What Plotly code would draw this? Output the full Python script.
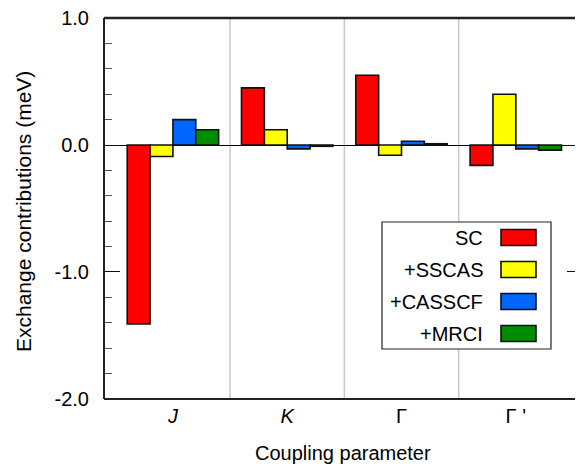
import plotly.graph_objects as go

categories = ["<i>J</i>", "<i>K</i>", "Γ", "Γ '"]
series_names = ["SC", "+SSCAS", "+CASSCF", "+MRCI"]
sc = [-1.41, 0.45, 0.55, -0.16]
sscas = [-0.09, 0.12, -0.08, 0.40]
casscf = [0.20, -0.03, 0.03, -0.03]
mrci = [0.12, -0.01, 0.01, -0.04]
colors = ["#ff0000", "#ffff00", "#0066ff", "#008c00"]
y_ticks = [-2.0, -1.0, 0.0, 1.0]
y_ticktext = ["-2.0", "-1.0", "0.0", "1.0"]
x_title = "Coupling parameter"
y_title = "Exchange contributions (meV)"

# page body has an 8px margin; figure is sized/placed to compensate
OFF = 8
W, H = 583 - OFF, 465 - OFF
ML, MR, MT, MB = 104 - OFF, 0, 18 - OFF, 66
PW, PH = W - ML - MR, H - MT - MB
FONT = "Liberation Sans, Arial, sans-serif"

def px_x(x):
    return (x - OFF - ML) / PW

def px_y(y):
    return (H - MB - (y - OFF)) / PH

fig = go.Figure()
for name, vals, col in zip(series_names, [sc, sscas, casscf, mrci], colors):
    fig.add_trace(go.Bar(x=categories, y=vals, name=name, showlegend=False,
                         marker=dict(color=col, line=dict(color="#111", width=1.6))))

shapes = []
# category dividers
for i in range(len(categories) - 1):
    shapes.append(dict(type="line", xref="x", yref="paper", x0=i + 0.5, x1=i + 0.5,
                       y0=0, y1=1, line=dict(color="#c8c8c8", width=1.5), layer="below"))
# frame lines (left, top, bottom)
shapes.append(dict(type="line", xref="paper", yref="paper", x0=0, x1=0, y0=0, y1=1,
                   line=dict(color="#222", width=2)))
shapes.append(dict(type="line", xref="paper", yref="paper", x0=0, x1=1, y0=1, y1=1,
                   line=dict(color="#222", width=2.5)))
shapes.append(dict(type="line", xref="paper", yref="paper", x0=0, x1=1, y0=0, y1=0,
                   line=dict(color="#222", width=2)))

# custom legend
lx0, lx1, ly0, ly1 = 382, 551, 222, 349
shapes.append(dict(type="rect", xref="paper", yref="paper", x0=px_x(lx0), x1=px_x(lx1),
                   y0=px_y(ly1), y1=px_y(ly0), line=dict(color="#222", width=1.2),
                   fillcolor="white"))
annotations = []
for k, (name, col) in enumerate(zip(series_names, colors)):
    cy = 237.5 + 32 * k
    shapes.append(dict(type="rect", xref="paper", yref="paper", x0=px_x(501), x1=px_x(536),
                       y0=px_y(cy + 8), y1=px_y(cy - 8), fillcolor=col,
                       line=dict(color="#111", width=1.6)))
    annotations.append(dict(xref="paper", yref="paper", x=px_x(485), y=px_y(cy),
                            xanchor="right", yanchor="middle", text=name, showarrow=False,
                            font=dict(size=20, color="#000", family=FONT)))

# axis titles
annotations.append(dict(xref="paper", yref="paper", x=px_x(343), y=px_y(453),
                        xanchor="center", yanchor="middle", text=x_title, showarrow=False,
                        font=dict(size=20, color="#000", family=FONT)))
annotations.append(dict(xref="paper", yref="paper", x=px_x(23), y=px_y(212),
                        xanchor="center", yanchor="middle", text=y_title, showarrow=False,
                        textangle=-90, font=dict(size=21, color="#000", family=FONT)))

n = len(categories)
fig.update_layout(
    width=W, height=H,
    margin=dict(l=ML, r=MR, t=MT, b=MB, pad=0),
    paper_bgcolor="white", plot_bgcolor="white",
    font=dict(family=FONT, size=20, color="#000"),
    barmode="group", bargap=0.2, bargroupgap=0,
    shapes=shapes, annotations=annotations,
    xaxis=dict(type="category", range=[-0.603, n - 1 + 0.588], automargin=False,
               showline=False, showgrid=False, ticks="", ticklabelstandoff=3,
               tickfont=dict(size=20)),
    yaxis=dict(range=[-2.0005, 1.0005], tickvals=y_ticks, ticktext=y_ticktext,
               automargin=False, ticklabeloverflow="allow",
               showline=False, mirror="ticks", ticks="inside", ticklen=16,
               tickcolor="#111", tickwidth=1.2, showgrid=False,
               zeroline=True, zerolinecolor="#000", zerolinewidth=1.2,
               ticklabelstandoff=14, tickfont=dict(size=20),
               minor=dict(dtick=0.2, ticks="inside", ticklen=8, tickcolor="#555",
                          tickwidth=1.2, showgrid=False)),
)

fig.write_html("out.html", config={"displayModeBar": False})
